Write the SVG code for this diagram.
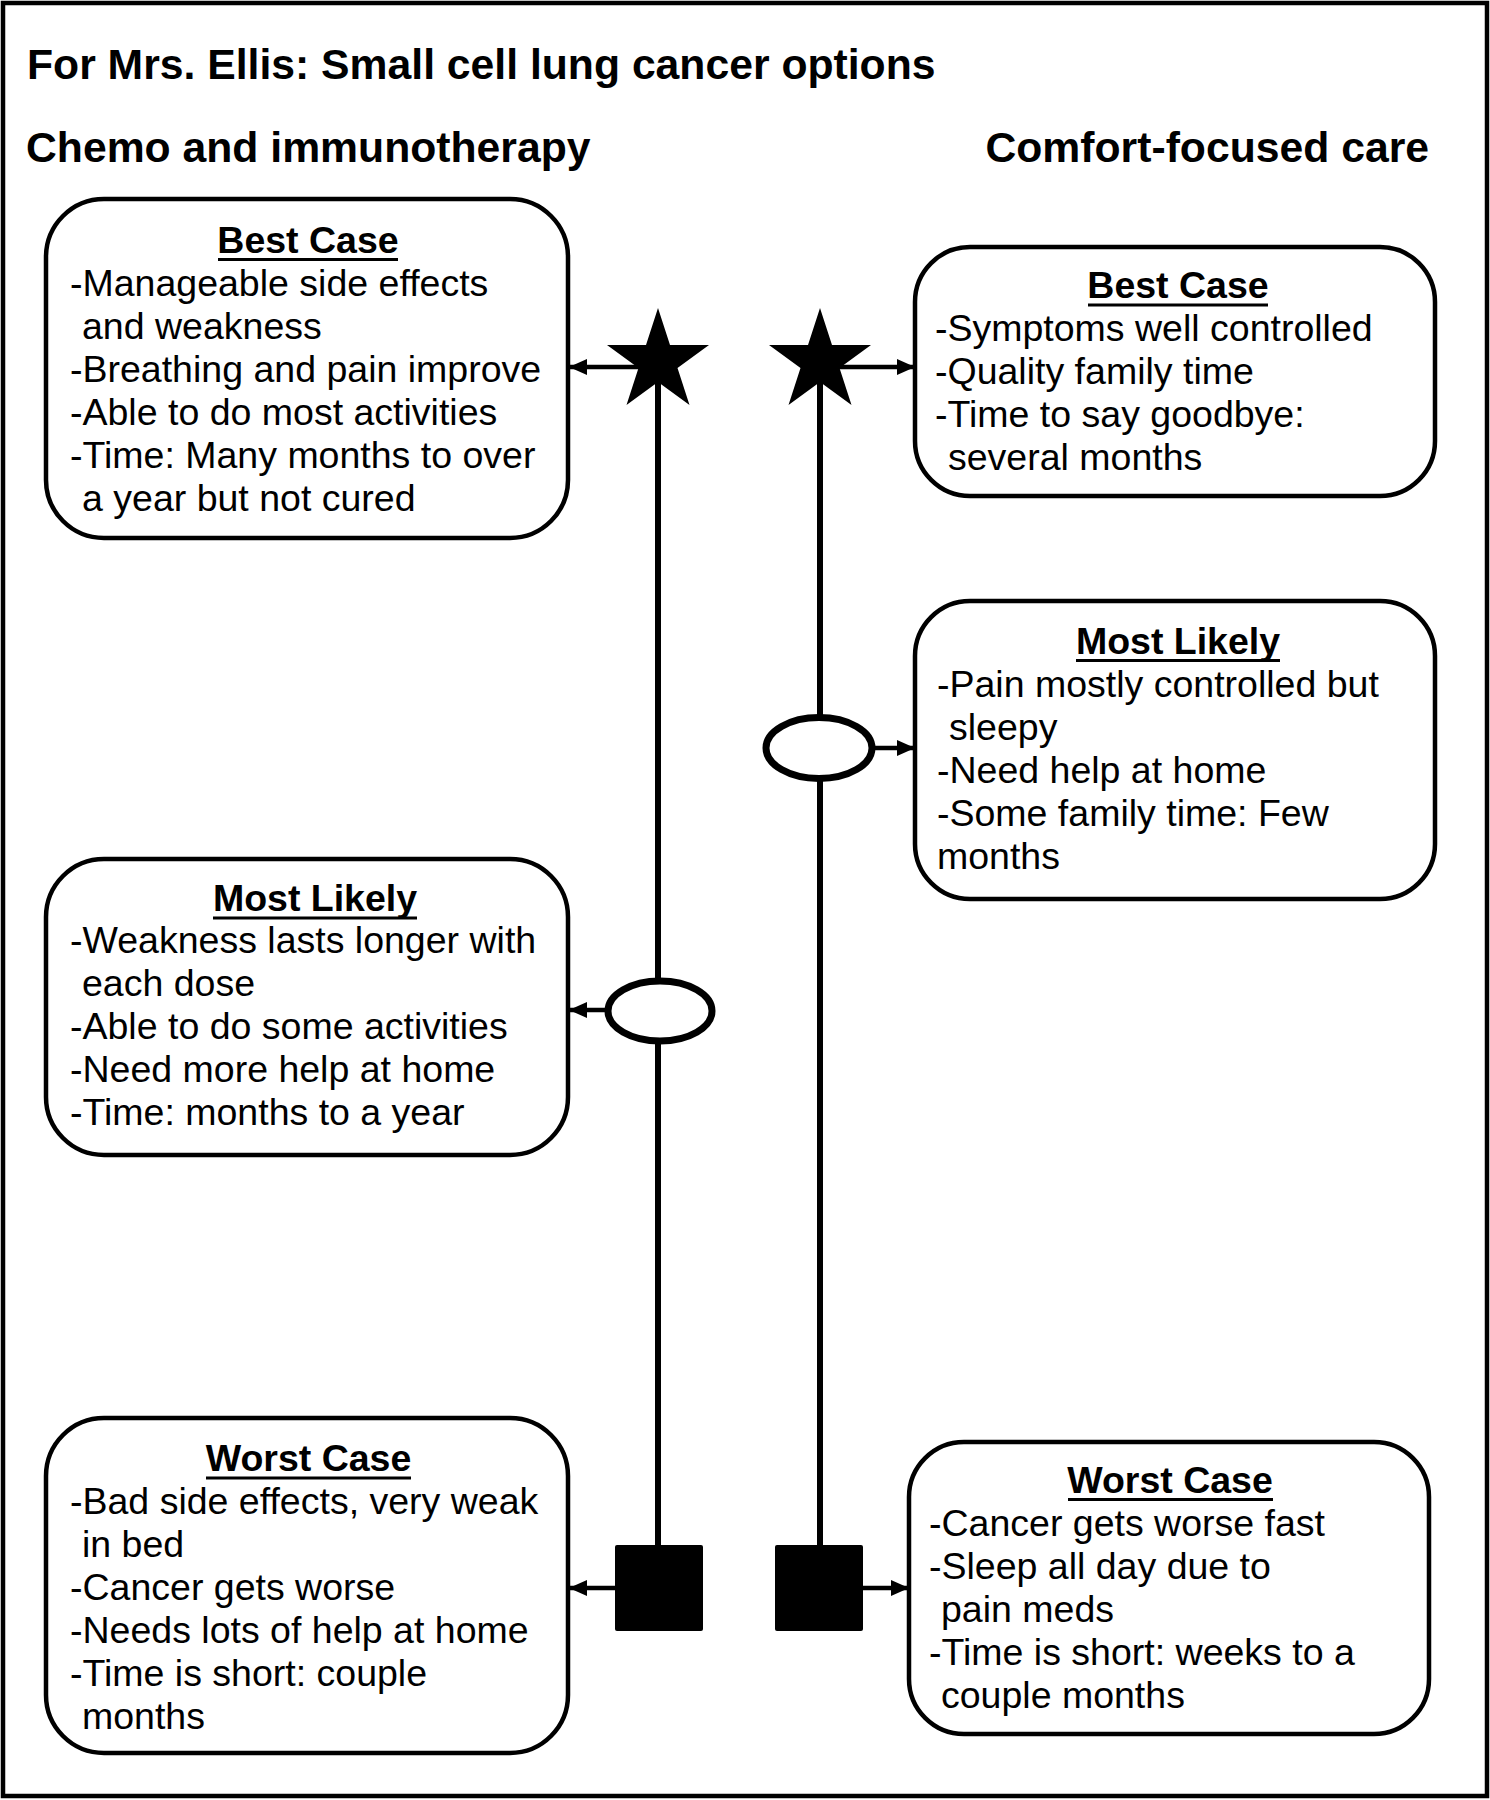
<svg xmlns="http://www.w3.org/2000/svg" width="1490" height="1800" viewBox="0 0 1490 1800">
<style>
.t{font-family:"Liberation Sans",Arial,sans-serif;font-weight:bold;font-size:42.7px;fill:#000}
.h{font-family:"Liberation Sans",Arial,sans-serif;font-weight:bold;font-size:37.5px;fill:#000;text-anchor:middle}
.b{font-family:"Liberation Sans",Arial,sans-serif;font-size:37.5px;fill:#000}
.box{fill:#fff;stroke:#000;stroke-width:4.5}
.ul{stroke:#000;stroke-width:3}
.tl{stroke:#000;stroke-width:6;fill:none}
.ar{stroke:#000;stroke-width:4.5;fill:none}
</style>
<defs>
<marker id="ah" markerUnits="userSpaceOnUse" markerWidth="19" markerHeight="18" refX="18" refY="9" orient="auto">
<path d="M0,1 L18,9 L0,17 Z" fill="#000"/>
</marker>
</defs>
<rect x="0" y="0" width="1490" height="1800" fill="#fff"/>
<rect x="3" y="3" width="1484" height="1793" fill="none" stroke="#000" stroke-width="4.5"/>
<g id="titles">
<text class="t" x="27" y="78.5">For Mrs. Ellis: Small cell lung cancer options</text>
<text class="t" x="26" y="162">Chemo and immunotherapy</text>
<text class="t" x="1429" y="162" text-anchor="end">Comfort-focused care</text>
</g>
<g id="connectors">
<path class="tl" d="M658,362 V1545"/>
<path class="tl" d="M820,362 V1545"/>
<path class="ar" d="M640,367 H569" marker-end="url(#ah)"/>
<path class="ar" d="M838,367 H915" marker-end="url(#ah)"/>
<path class="ar" d="M605,1010 H569" marker-end="url(#ah)"/>
<path class="ar" d="M873,748 H915" marker-end="url(#ah)"/>
<path class="ar" d="M615,1588 H569" marker-end="url(#ah)"/>
<path class="ar" d="M862,1588 H909" marker-end="url(#ah)"/>
</g>
<g id="chemo-best-marker">
<polygon points="658,308 670,345 709,345 677.5,368 689.5,405 658,382 626.5,405 638.5,368 607,345 646,345" fill="#000"/>
</g>
<g id="comfort-best-marker">
<polygon points="820,308 832,345 871,345 839.5,368 851.5,405 820,382 788.5,405 800.5,368 769,345 808,345" fill="#000"/>
</g>
<g id="chemo-likely-marker">
<ellipse cx="660" cy="1011" rx="52" ry="30" fill="#fff" stroke="#000" stroke-width="7"/>
</g>
<g id="comfort-likely-marker">
<ellipse cx="819" cy="748" rx="53" ry="30.5" fill="#fff" stroke="#000" stroke-width="7"/>
</g>
<g id="chemo-worst-marker">
<rect x="615" y="1545" width="88" height="86" rx="2" fill="#000"/>
</g>
<g id="comfort-worst-marker">
<rect x="775" y="1545" width="88" height="86" rx="2" fill="#000"/>
</g>
<g id="chemo-best">
<rect class="box" x="46" y="199" width="522" height="339" rx="58"/>
<text class="h" x="308" y="253">Best Case</text>
<line class="ul" x1="218" y1="259.5" x2="398" y2="259.5"/>
<text class="b" x="70" y="296">-Manageable side effects</text>
<text class="b" x="82" y="339">and weakness</text>
<text class="b" x="70" y="382">-Breathing and pain improve</text>
<text class="b" x="70" y="425">-Able to do most activities</text>
<text class="b" x="70" y="468">-Time: Many months to over</text>
<text class="b" x="82" y="511">a year but not cured</text>
</g>
<g id="chemo-likely">
<rect class="box" x="46" y="859" width="522" height="296" rx="58"/>
<text class="h" x="315" y="911">Most Likely</text>
<line class="ul" x1="213" y1="918" x2="417" y2="918"/>
<text class="b" x="70" y="953">-Weakness lasts longer with</text>
<text class="b" x="82" y="996">each dose</text>
<text class="b" x="70" y="1039">-Able to do some activities</text>
<text class="b" x="70" y="1082">-Need more help at home</text>
<text class="b" x="70" y="1125">-Time: months to a year</text>
</g>
<g id="chemo-worst">
<rect class="box" x="46" y="1418" width="522" height="335" rx="58"/>
<text class="h" x="308.5" y="1471">Worst Case</text>
<line class="ul" x1="206" y1="1478" x2="411" y2="1478"/>
<text class="b" x="70" y="1514">-Bad side effects, very weak</text>
<text class="b" x="82" y="1557">in bed</text>
<text class="b" x="70" y="1600">-Cancer gets worse</text>
<text class="b" x="70" y="1643">-Needs lots of help at home</text>
<text class="b" x="70" y="1686">-Time is short: couple</text>
<text class="b" x="82" y="1729">months</text>
</g>
<g id="comfort-best">
<rect class="box" x="915" y="247" width="520" height="249" rx="55"/>
<text class="h" x="1178" y="298">Best Case</text>
<line class="ul" x1="1088" y1="305" x2="1268" y2="305"/>
<text class="b" x="935" y="341">-Symptoms well controlled</text>
<text class="b" x="935" y="384">-Quality family time</text>
<text class="b" x="935" y="427">-Time to say goodbye:</text>
<text class="b" x="948" y="470">several months</text>
</g>
<g id="comfort-likely">
<rect class="box" x="915" y="601" width="520" height="298" rx="55"/>
<text class="h" x="1178" y="654">Most Likely</text>
<line class="ul" x1="1076" y1="660.5" x2="1280" y2="660.5"/>
<text class="b" x="937" y="697">-Pain mostly controlled but</text>
<text class="b" x="949" y="740">sleepy</text>
<text class="b" x="937" y="783">-Need help at home</text>
<text class="b" x="937" y="826">-Some family time: Few</text>
<text class="b" x="937" y="869">months</text>
</g>
<g id="comfort-worst">
<rect class="box" x="909" y="1442" width="520" height="292" rx="55"/>
<text class="h" x="1170" y="1493">Worst Case</text>
<line class="ul" x1="1068" y1="1499.5" x2="1273" y2="1499.5"/>
<text class="b" x="929" y="1536">-Cancer gets worse fast</text>
<text class="b" x="929" y="1579">-Sleep all day due to</text>
<text class="b" x="941" y="1622">pain meds</text>
<text class="b" x="929" y="1665">-Time is short: weeks to a</text>
<text class="b" x="941" y="1708">couple months</text>
</g>
</svg>
